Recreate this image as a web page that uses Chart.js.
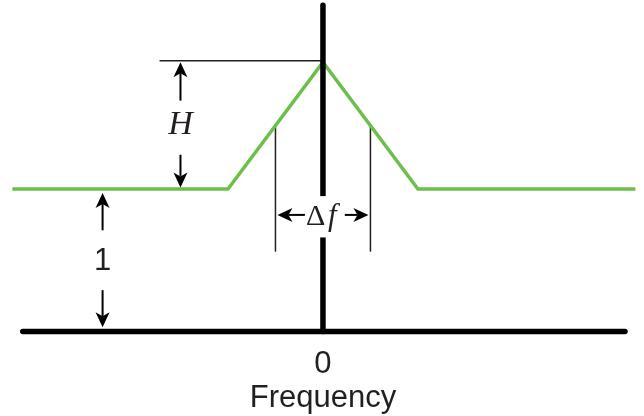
<!DOCTYPE html>
<html>
<head>
<meta charset="utf-8">
<script src="https://cdn.jsdelivr.net/npm/chart.js@4/dist/chart.umd.min.js"></script>
<style>
   html, body { margin: 0; padding: 0; background: #fff; }
   #wrap { width: 644px; height: 416px; }
</style>
</head>
<body>
<div id="wrap"><canvas id="spectrum" width="644" height="416"></canvas></div>
<script>
// Spectrum shape: flat floor at 1, triangular bump of height H at zero frequency.
const freqPoints = [-3.27, -1, 0, 1, 3.29];
const gainPoints = [1, 1, 1.89, 1, 1];

// Axis lines and guide lines (data units).
const axisFreq     = [-3.16, 3.18];
const axisGain     = [0, 0];
const centerFreq   = [0, 0];
const centerGain   = [0, 2.29];
const peakGuideX   = [-1.72, 0];
const peakGuideY   = [1.9, 1.9];
const halfWidthX   = [-0.5, 0.5];
const halfWidthLow = 0.56;

// Text labels.
const tickLabels = ["0"];
const axisTitle  = "Frequency";
const heightLabel = "H";
const floorLabel  = "1";

const green = "#6cbf4a";
const ink   = "#231f20";

const pts = (xs, ys) => xs.map((x, i) => ({ x: x, y: ys[i] }));
const gainAt = f => {
   for (let i = 0; i < freqPoints.length - 1; i++) {
      const a = freqPoints[i], b = freqPoints[i + 1];
      if (f >= a && f <= b) return gainPoints[i] + (gainPoints[i + 1] - gainPoints[i]) * (f - a) / (b - a);
   }
   return 1;
};

const lineSet = (data, color, width, cap) => ({
   data: data,
   showLine: true,
   borderColor: color,
   backgroundColor: color,
   borderWidth: width,
   borderCapStyle: cap || "butt",
   pointRadius: 0,
   clip: false
});

// Arrow with a filled, slightly notched head.
function arrow(ctx, x1, y1, x2, y2) {
   const ang = Math.atan2(y2 - y1, x2 - x1);
   const len = 15, half = 7;
   const bx = x2 - Math.cos(ang) * len, by = y2 - Math.sin(ang) * len;
   const nx = x2 - Math.cos(ang) * (len - 4), ny = y2 - Math.sin(ang) * (len - 4);
   ctx.beginPath();
   ctx.moveTo(x1, y1);
   ctx.lineTo(nx, ny);
   ctx.lineWidth = 2;
   ctx.strokeStyle = "#000";
   ctx.stroke();
   ctx.beginPath();
   ctx.moveTo(x2, y2);
   ctx.lineTo(bx - Math.sin(ang) * half, by + Math.cos(ang) * half);
   ctx.lineTo(nx, ny);
   ctx.lineTo(bx + Math.sin(ang) * half, by - Math.cos(ang) * half);
   ctx.closePath();
   ctx.fillStyle = "#000";
   ctx.fill();
}

const annotations = {
   id: "annotations",
   afterDatasetsDraw(chart) {
      const ctx = chart.ctx;
      const X = v => chart.scales.x.getPixelForValue(v);
      const Y = v => chart.scales.y.getPixelForValue(v);
      ctx.save();

      // H arrows
      arrow(ctx, X(-1.5), Y(1.62), X(-1.5), Y(gainPoints[2]));
      arrow(ctx, X(-1.5), Y(1.24), X(-1.5), Y(1.01));
      // 1 arrows
      arrow(ctx, X(-2.32), Y(0.71), X(-2.32), Y(0.972));
      arrow(ctx, X(-2.32), Y(0.29), X(-2.32), Y(0.03));

      // white box behind the Δf label
      ctx.fillStyle = "#fff";
      ctx.fillRect(X(-0.18), Y(0.95), X(0.21) - X(-0.18), Y(0.66) - Y(0.95));
      // Δf arrows
      arrow(ctx, X(-0.19), Y(0.818), X(halfWidthX[0]) + 2, Y(0.818));
      arrow(ctx, X(0.23), Y(0.818), X(halfWidthX[1]) - 2, Y(0.818));

      ctx.fillStyle = ink;
      ctx.textBaseline = "alphabetic";
      ctx.textAlign = "center";
      ctx.font = "italic 34px 'Liberation Serif'";
      ctx.fillText(heightLabel, X(-1.5), Y(1.463) + 11);
      ctx.font = "31px 'Liberation Sans'";
      ctx.fillText(floorLabel, X(-2.32), Y(0.516) + 12);
      ctx.fillText(tickLabels[0], X(0), 373);
      ctx.fillText(axisTitle, X(0), 407);

      ctx.textAlign = "left";
      ctx.font = "30px 'Liberation Serif'";
      ctx.fillText("\u0394", 306, 225);
      ctx.font = "italic 31px 'Liberation Serif'";
      ctx.fillText("f", 328, 225);
      ctx.restore();
   }
};

new Chart(document.getElementById("spectrum"), {
   type: "scatter",
   data: {
      datasets: [
         lineSet(pts(centerFreq, centerGain), "#000", 5.5, "round"),
         lineSet(pts(axisFreq, axisGain), "#000", 5.5, "round"),
         lineSet(pts(freqPoints, gainPoints), green, 3.5),
         lineSet(pts(peakGuideX, peakGuideY), ink, 1.5),
         lineSet(pts([halfWidthX[0], halfWidthX[0]], [halfWidthLow, gainAt(halfWidthX[0])]), ink, 1.5),
         lineSet(pts([halfWidthX[1], halfWidthX[1]], [halfWidthLow, gainAt(halfWidthX[1])]), ink, 1.5)
      ]
   },
   options: {
      responsive: false,
      animation: false,
      layout: { padding: 0 },
      plugins: {
         legend: { display: false },
         tooltip: { enabled: false }
      },
      scales: {
         x: { type: "linear", display: false, min: -3.4, max: 3.38 },
         y: { type: "linear", display: false, min: -0.593, max: 2.326 }
      }
   },
   plugins: [annotations]
});
</script>
</body>
</html>
